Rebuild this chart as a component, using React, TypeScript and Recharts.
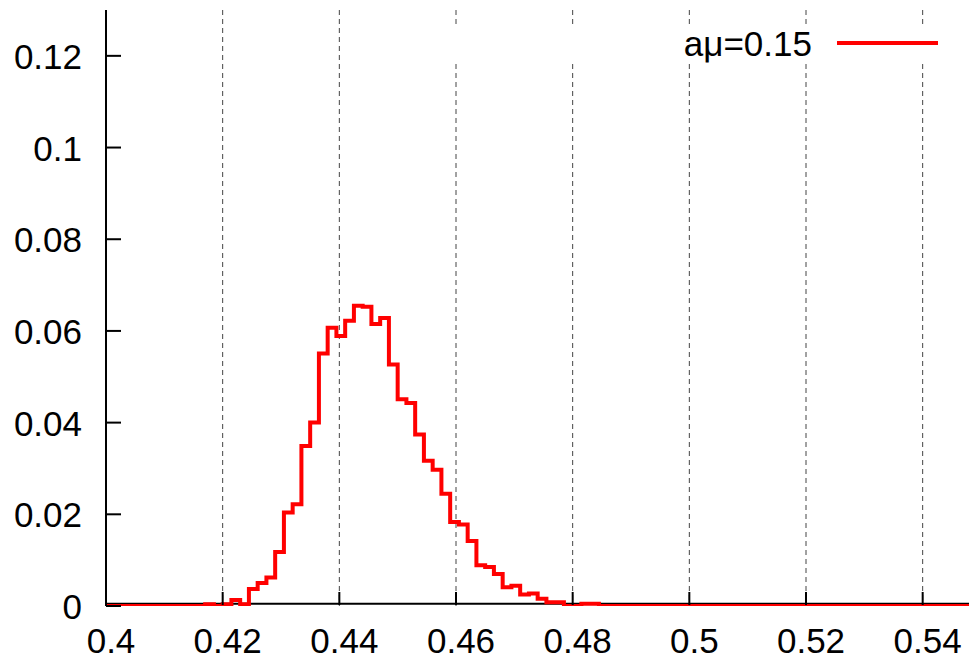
import React from "react";
import { CartesianGrid, Legend, Line, LineChart, XAxis, YAxis } from "recharts";

const xTicks = [0.4, 0.42, 0.44, 0.46, 0.48, 0.5, 0.52, 0.54];
const xTickLabels = ["0.4", "0.42", "0.44", "0.46", "0.48", "0.5", "0.52", "0.54"];
const yTicks = [0, 0.02, 0.04, 0.06, 0.08, 0.1, 0.12];
const yTickLabels = ["0", "0.02", "0.04", "0.06", "0.08", "0.1", "0.12"];

// histogram bins (left edge of first bin + bin width)
const binStart = 0.417;
const binWidth = 0.0015;
const density = [
  0.0004, 0, 0.0004, 0.0013, 0.0004, 0.0037, 0.005, 0.0062, 0.0118, 0.0204,
  0.0222, 0.0349, 0.04, 0.0551, 0.0607, 0.0589, 0.0622, 0.0655, 0.0653, 0.0615,
  0.0628, 0.0527, 0.0451, 0.0443, 0.0374, 0.0317, 0.0297, 0.0245, 0.0183, 0.0178,
  0.0142, 0.0089, 0.0085, 0.007, 0.0041, 0.0044, 0.0025, 0.0027, 0.0016, 0.0008,
  0.0008, 0, 0, 0.0005, 0.0005,
];
const seriesLabel = "aμ=0.15";

const xDomain: [number, number] = [0.4, 0.55];
const yDomain: [number, number] = [0, 0.13];
// bottom border sits a hair above y=0 so the red zero line shows under it
const borderValue = [0.0005];

const data = [
  { x: xDomain[0], y: 0 },
  ...density.map((v, i) => ({ x: binStart + i * binWidth, y: v })),
  { x: binStart + density.length * binWidth, y: 0 },
  { x: xDomain[1], y: 0 },
];

const FONT = "'Liberation Sans', Arial, Helvetica, sans-serif";
const RED = "#ff0000";
const axisStyle = { stroke: "#000", strokeWidth: 2 };

const BottomTick = ({ x, y, payload }: any) => (
  <g>
    <line x1={x} y1={y - 1} x2={x} y2={y - 14} stroke="#000" strokeWidth={2} />
    <text x={x + 5} y={y + 47} textAnchor="middle" fontSize={35} fontFamily={FONT} fill="#000">
      {xTickLabels[xTicks.indexOf(payload.value)]}
    </text>
  </g>
);

const TopTick = ({ x, y }: any) => (
  <line x1={x} y1={y} x2={x} y2={y + 15} stroke="#000" strokeWidth={2} />
);

const LeftTick = ({ x, y, payload }: any) => (
  <g>
    <line x1={x} y1={y} x2={x + 15} y2={y} stroke="#000" strokeWidth={2} />
    <text x={x - 24} y={y + 13} textAnchor="end" fontSize={35} fontFamily={FONT} fill="#000">
      {yTickLabels[yTicks.indexOf(payload.value)]}
    </text>
  </g>
);

const RightTick = ({ x, y }: any) => (
  <line x1={x} y1={y} x2={x - 15} y2={y} stroke="#000" strokeWidth={2} />
);

const KeyBox = () => (
  <svg width={555} height={35} style={{ display: "block", background: "#fff", overflow: "visible" }}>
    <text x={412} y={30} textAnchor="end" fontSize={35} fontFamily={FONT} fill="#000">
      {seriesLabel}
    </text>
    <line x1={437} y1={17} x2={538} y2={17} stroke={RED} strokeWidth={4} />
  </svg>
);

export default function App() {
  return (
    <div
      style={{
        position: "fixed",
        left: 0,
        top: 0,
        width: 969,
        height: 657,
        overflow: "hidden",
        background: "#fff",
      }}
    >
      <LineChart width={1000} height={657} data={data} margin={{ top: 10, right: 19, bottom: 0, left: 0 }}>
        <CartesianGrid
          xAxisId="b"
          yAxisId="l"
          horizontal={false}
          stroke="#444"
          strokeWidth={1}
          strokeDasharray="5 4"
        />
        <CartesianGrid
          xAxisId="b"
          yAxisId="l"
          vertical={false}
          horizontalValues={borderValue}
          stroke="#000"
          strokeWidth={2}
        />
        <XAxis
          xAxisId="b"
          dataKey="x"
          type="number"
          domain={xDomain}
          ticks={xTicks}
          interval={0}
          allowDataOverflow
          height={51}
          tickSize={0}
          tickMargin={0}
          tickLine={false}
          axisLine={false}
          tick={<BottomTick />}
        />
        <XAxis
          xAxisId="t"
          orientation="top"
          dataKey="x"
          type="number"
          domain={xDomain}
          ticks={xTicks}
          interval={0}
          allowDataOverflow
          height={0}
          tickSize={0}
          tickMargin={0}
          tickLine={false}
          axisLine={axisStyle}
          tick={<TopTick />}
        />
        <YAxis
          yAxisId="l"
          type="number"
          domain={yDomain}
          ticks={yTicks}
          interval={0}
          allowDataOverflow
          width={106}
          tickSize={0}
          tickMargin={0}
          tickLine={false}
          axisLine={axisStyle}
          tick={<LeftTick />}
        />
        <YAxis
          yAxisId="r"
          orientation="right"
          type="number"
          domain={yDomain}
          ticks={yTicks}
          interval={0}
          allowDataOverflow
          width={0}
          tickSize={0}
          tickMargin={0}
          tickLine={false}
          axisLine={axisStyle}
          tick={<RightTick />}
        />
        <Legend
          layout="horizontal"
          verticalAlign="middle"
          align="center"
          wrapperStyle={{ left: 400, top: 26, width: 555, height: 35 }}
          content={<KeyBox />}
        />
        <Line
          xAxisId="b"
          yAxisId="l"
          type="stepAfter"
          dataKey="y"
          name={seriesLabel}
          stroke={RED}
          strokeWidth={4}
          strokeLinejoin="miter"
          dot={false}
          activeDot={false}
          isAnimationActive={false}
        />
      </LineChart>
    </div>
  );
}
